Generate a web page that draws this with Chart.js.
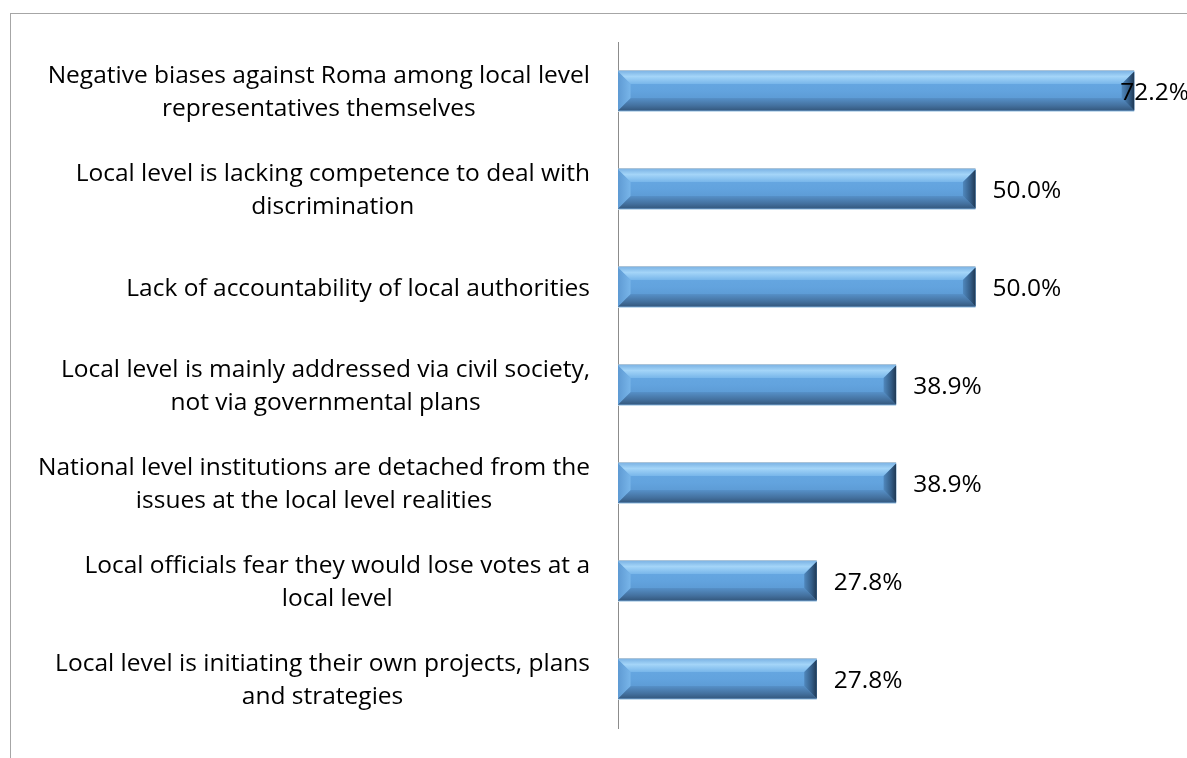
<!DOCTYPE html>
<html>
<head>
<meta charset="utf-8">
<script src="https://cdn.jsdelivr.net/npm/chart.js@4"></script>
<style>
  html, body { margin: 0; padding: 0; background: #fff; overflow: hidden; }
  #wrap { position: relative; width: 1200px; height: 758px; }
  #frame { position: absolute; left: 10px; top: 13px; width: 1300px; height: 800px;
           border: 1px solid #a6a6a6; box-sizing: border-box; }
  #chart { position: absolute; left: 0; top: 0; }
</style>
</head>
<body>
<div id="wrap">
  <div id="frame"></div>
  <canvas id="chart" width="1200" height="758"></canvas>
</div>
<script>
// categories (wrapped as in the original) and values in %
const categories = [
    ["Negative biases against Roma among local level", "representatives themselves"],
    ["Local level is lacking competence to deal with", "discrimination"],
    ["Lack of accountability of local authorities"],
    ["Local level is mainly addressed via civil society,", "not via governmental plans"],
    ["National level institutions are detached from the", "issues at the local level realities"],
    ["Local officials fear they would lose votes at a", "local level"],
    ["Local level is initiating their own projects, plans", "and strategies"]
];
const shares = [72.2, 50.0, 50.0, 38.9, 38.9, 27.8, 27.8];

const FONT = "'Open Sans', sans-serif";
const FONT_SIZE = 24.5;

// bevelled "3D" look drawn over each bar
const bevelBars = {
    id: 'bevelBars',
    afterDatasetsDraw(chart) {
        const ctx = chart.ctx;
        chart.getDatasetMeta(0).data.forEach(bar => {
            const l = bar.base, r = bar.x;
            const t = bar.y - bar.height / 2, b = bar.y + bar.height / 2;
            const h = b - t, bv = Math.min(h * 0.32, (r - l) / 2);
            ctx.save();
            // face
            let g = ctx.createLinearGradient(0, t, 0, b);
            g.addColorStop(0, '#6aabe4');
            g.addColorStop(0.5, '#62a3de');
            g.addColorStop(1, '#5690c8');
            ctx.fillStyle = g;
            ctx.fillRect(l, t, r - l, h);
            // top bevel
            g = ctx.createLinearGradient(0, t, 0, t + bv);
            g.addColorStop(0, '#7fb6e6');
            g.addColorStop(0.4, '#a4d5f8');
            g.addColorStop(1, '#78b6ea');
            ctx.fillStyle = g;
            ctx.beginPath();
            ctx.moveTo(l, t); ctx.lineTo(r, t); ctx.lineTo(r - bv, t + bv); ctx.lineTo(l + bv, t + bv);
            ctx.closePath(); ctx.fill();
            // bottom bevel
            g = ctx.createLinearGradient(0, b - bv, 0, b);
            g.addColorStop(0, '#5690c8');
            g.addColorStop(0.6, '#44719f');
            g.addColorStop(1, '#34587e');
            ctx.fillStyle = g;
            ctx.beginPath();
            ctx.moveTo(l, b); ctx.lineTo(r, b); ctx.lineTo(r - bv, b - bv); ctx.lineTo(l + bv, b - bv);
            ctx.closePath(); ctx.fill();
            // left bevel
            g = ctx.createLinearGradient(l, 0, l + bv, 0);
            g.addColorStop(0, '#5e9ad3');
            g.addColorStop(1, '#78b5e9');
            ctx.fillStyle = g;
            ctx.beginPath();
            ctx.moveTo(l, t); ctx.lineTo(l + bv, t + bv); ctx.lineTo(l + bv, b - bv); ctx.lineTo(l, b);
            ctx.closePath(); ctx.fill();
            // right bevel
            g = ctx.createLinearGradient(r - bv, 0, r, 0);
            g.addColorStop(0, '#5088bd');
            g.addColorStop(0.6, '#345d87');
            g.addColorStop(1, '#1f3853');
            ctx.fillStyle = g;
            ctx.beginPath();
            ctx.moveTo(r, t); ctx.lineTo(r - bv, t + bv); ctx.lineTo(r - bv, b - bv); ctx.lineTo(r, b);
            ctx.closePath(); ctx.fill();
            // light rims
            ctx.lineWidth = 1;
            ctx.strokeStyle = 'rgba(150,180,205,0.8)';
            ctx.beginPath();
            ctx.moveTo(l, Math.round(t) - 0.5); ctx.lineTo(r, Math.round(t) - 0.5);
            ctx.stroke();
            ctx.strokeStyle = 'rgba(190,215,235,0.9)';
            ctx.beginPath();
            ctx.moveTo(l, Math.round(b) + 0.5); ctx.lineTo(r, Math.round(b) + 0.5);
            ctx.stroke();
            ctx.restore();
        });
    }
};

// category labels: block right-aligned next to the axis, lines centred within the block
const categoryLabels = {
    id: 'categoryLabels',
    afterDraw(chart) {
        const ctx = chart.ctx;
        const yScale = chart.scales.y;
        const lineH = 33;
        ctx.save();
        ctx.font = FONT_SIZE + "px " + FONT;
        ctx.fillStyle = '#000';
        ctx.textAlign = 'center';
        ctx.textBaseline = 'middle';
        categories.forEach((lines, i) => {
            const yc = yScale.getPixelForTick(i) + 2;
            const maxW = Math.max(...lines.map(s => ctx.measureText(s).width));
            const xc = yScale.right - 28 - maxW / 2;
            lines.forEach((s, k) => {
                ctx.fillText(s, xc, yc + (k - (lines.length - 1) / 2) * lineH);
            });
        });
        ctx.restore();
    }
};

// value labels at the bar ends
const valueLabels = {
    id: 'valueLabels',
    afterDraw(chart) {
        const ctx = chart.ctx;
        ctx.save();
        ctx.font = FONT_SIZE + "px " + FONT;
        ctx.fillStyle = '#000';
        ctx.textBaseline = 'middle';
        ctx.textAlign = 'left';
        chart.getDatasetMeta(0).data.forEach((bar, i) => {
            const txt = shares[i].toFixed(1) + '%';
            const w = ctx.measureText(txt).width;
            const x = Math.min(bar.x + 17, chart.width - 11 - w);
            ctx.fillText(txt, x, bar.y + 2);
        });
        ctx.restore();
    }
};

new Chart(document.getElementById('chart'), {
    type: 'bar',
    data: {
        labels: categories,
        datasets: [{
            data: shares,
            backgroundColor: '#62a3de',
            borderWidth: 0,
            barPercentage: 0.4,
            categoryPercentage: 1
        }]
    },
    options: {
        indexAxis: 'y',
        responsive: false,
        animation: false,
        layout: { padding: { top: 42, bottom: 30, left: 0, right: 10 } },
        scales: {
            x: { display: false, min: 0, max: 80 },
            y: {
                afterFit(scale) { scale.width = 618; scale.paddingTop = 0; scale.paddingBottom = 0; },
                grid: { display: false, drawTicks: false },
                border: { display: true, color: '#8c8c8c', width: 1 },
                ticks: { display: false }
            }
        },
        plugins: {
            legend: { display: false },
            tooltip: { enabled: false }
        }
    },
    plugins: [bevelBars, categoryLabels, valueLabels]
});
</script>
</body>
</html>
